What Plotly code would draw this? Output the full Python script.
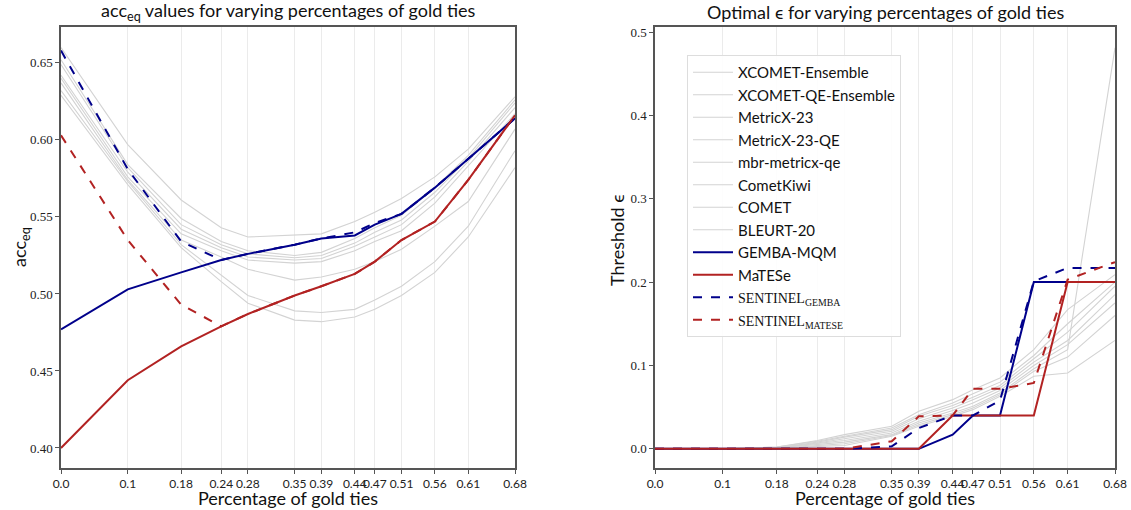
import plotly.graph_objects as go
from plotly.subplots import make_subplots

x_vals = [0.0, 0.1, 0.18, 0.24, 0.28, 0.35, 0.39, 0.44, 0.47, 0.51, 0.56, 0.61, 0.68]
x_labels = ["0.0", "0.1", "0.18", "0.24", "0.28", "0.35", "0.39", "0.44", "0.47", "0.51", "0.56", "0.61", "0.68"]

gray_names = ["XCOMET-Ensemble", "XCOMET-QE-Ensemble", "MetricX-23", "MetricX-23-QE",
              "mbr-metricx-qe", "CometKiwi", "COMET", "BLEURT-20"]

# left panel: acc_eq
acc_gray = [
    [0.660, 0.597, 0.561, 0.543, 0.537, 0.538, 0.539, 0.547, 0.553, 0.562, 0.576, 0.594, 0.628],
    [0.652, 0.584, 0.549, 0.534, 0.528, 0.525, 0.527, 0.536, 0.543, 0.551, 0.569, 0.590, 0.626],
    [0.649, 0.582, 0.545, 0.532, 0.526, 0.5235, 0.525, 0.533, 0.540, 0.548, 0.566, 0.588, 0.624],
    [0.642, 0.579, 0.542, 0.530, 0.524, 0.522, 0.523, 0.531, 0.537, 0.545, 0.563, 0.586, 0.621],
    [0.640, 0.576, 0.539, 0.528, 0.522, 0.520, 0.521, 0.528, 0.534, 0.541, 0.559, 0.583, 0.617],
    [0.637, 0.574, 0.535, 0.524, 0.516, 0.509, 0.511, 0.516, 0.521, 0.529, 0.544, 0.560, 0.607],
    [0.632, 0.573, 0.532, 0.512, 0.499, 0.489, 0.488, 0.490, 0.496, 0.505, 0.521, 0.544, 0.593],
    [0.629, 0.571, 0.530, 0.508, 0.494, 0.483, 0.482, 0.485, 0.490, 0.499, 0.514, 0.537, 0.582],
]
acc_gemba = [0.477, 0.503, 0.514, 0.522, 0.526, 0.532, 0.536, 0.538, 0.545, 0.552, 0.569, 0.588, 0.614]
acc_matese = [0.400, 0.444, 0.466, 0.479, 0.487, 0.499, 0.505, 0.513, 0.521, 0.535, 0.547, 0.574, 0.616]
acc_sent_gemba = [0.658, 0.581, 0.534, 0.522, 0.526, 0.532, 0.536, 0.540, 0.546, 0.552, 0.569, 0.588, 0.614]
acc_sent_matese = [0.603, 0.535, 0.493, 0.479, 0.487, 0.499, 0.505, 0.513, 0.521, 0.535, 0.547, 0.574, 0.616]

# right panel: optimal epsilon
eps_gray = [
    [0, 0, 0.002, 0.010, 0.017, 0.027, 0.045, 0.059, 0.071, 0.085, 0.119, 0.167, 0.209],
    [0, 0, 0.002, 0.009, 0.015, 0.025, 0.041, 0.055, 0.066, 0.080, 0.112, 0.150, 0.200],
    [0, 0, 0.001, 0.008, 0.014, 0.023, 0.039, 0.052, 0.062, 0.076, 0.108, 0.140, 0.195],
    [0, 0, 0.001, 0.007, 0.012, 0.021, 0.036, 0.049, 0.059, 0.073, 0.104, 0.130, 0.185],
    [0, 0, 0.001, 0.006, 0.010, 0.019, 0.033, 0.046, 0.055, 0.070, 0.100, 0.125, 0.175],
    [0, 0, 0.001, 0.005, 0.008, 0.017, 0.031, 0.043, 0.051, 0.067, 0.096, 0.119, 0.481],
    [0, 0, 0.000, 0.004, 0.006, 0.016, 0.029, 0.041, 0.049, 0.065, 0.093, 0.110, 0.160],
    [0, 0, 0.000, 0.003, 0.004, 0.015, 0.027, 0.039, 0.047, 0.063, 0.087, 0.091, 0.130],
]
eps_gemba = [0, 0, 0, 0, 0, 0, 0, 0.017, 0.040, 0.040, 0.200, 0.200, 0.200]
eps_matese = [0, 0, 0, 0, 0, 0, 0, 0.040, 0.040, 0.040, 0.040, 0.200, 0.200]
eps_sent_gemba = [0, 0, 0, 0, 0, 0.003, 0.025, 0.040, 0.040, 0.058, 0.201, 0.217, 0.217]
eps_sent_matese = [0, 0, 0, 0, 0, 0.009, 0.039, 0.040, 0.072, 0.072, 0.079, 0.203, 0.224]

GRAY = "#d3d3d3"
BLUE = "#00008b"
RED = "#b22222"
SERIF = "Liberation Serif"
SANS = "Lato"

fig = make_subplots(rows=1, cols=2)

def add_panel(col, grays, gemba, matese, sg, sm):
    show = col == 2
    for name, ys in zip(gray_names, grays):
        fig.add_trace(go.Scatter(x=x_vals, y=ys, mode="lines", name=name, legendgroup=name,
                                 showlegend=show, line=dict(color=GRAY, width=1.1)), row=1, col=col)
    fig.add_trace(go.Scatter(x=x_vals, y=gemba, mode="lines", name="GEMBA-MQM", legendgroup="g",
                             showlegend=show, line=dict(color=BLUE, width=2)), row=1, col=col)
    fig.add_trace(go.Scatter(x=x_vals, y=matese, mode="lines", name="MaTESe", legendgroup="m",
                             showlegend=show, line=dict(color=RED, width=2)), row=1, col=col)
    fig.add_trace(go.Scatter(x=x_vals, y=sg, mode="lines",
                             name="<span style='font-family:Liberation Serif;font-size:14px'>SENTINEL<sub>GEMBA</sub></span>",
                             legendgroup="sg", showlegend=show,
                             line=dict(color=BLUE, width=2, dash="dash")), row=1, col=col)
    fig.add_trace(go.Scatter(x=x_vals, y=sm, mode="lines",
                             name="<span style='font-family:Liberation Serif;font-size:14px'>SENTINEL<sub>MATESE</sub></span>",
                             legendgroup="sm", showlegend=show,
                             line=dict(color=RED, width=2, dash="dash")), row=1, col=col)

add_panel(1, acc_gray, acc_gemba, acc_matese, acc_sent_gemba, acc_sent_matese)
add_panel(2, eps_gray, eps_gemba, eps_matese, eps_sent_gemba, eps_sent_matese)

L, R, T, B = 61, 16, 27, 42
W, H = 1131, 510
pw = W - L - R
ph = H - T - B

def px_x(p):
    return (p - L) / pw

def px_y(p):
    return (H - B - p) / ph

axis_common = dict(showline=True, linecolor="#555555", linewidth=1.5, mirror=True,
                   ticks="outside", ticklen=4, tickcolor="#555555", automargin=False)

fig.update_xaxes(**axis_common, tickvals=x_vals, ticktext=x_labels, range=[0, 0.68],
                 tickangle=0, showgrid=True, gridcolor="#ebebeb", gridwidth=1, zeroline=False,
                 tickfont=dict(family=SANS, size=12, color="#222"))
fig.update_yaxes(**axis_common, showgrid=False, zeroline=False,
                 tickfont=dict(family=SERIF, size=13, color="#222"))

fig.update_layout(
    xaxis=dict(domain=[0, (515 - L) / pw]),
    xaxis2=dict(domain=[(655 - L) / pw, 1]),
    yaxis=dict(domain=[0, 1], range=[0.387, 0.6733], tickvals=[0.40, 0.45, 0.50, 0.55, 0.60, 0.65],
               ticktext=["0.40", "0.45", "0.50", "0.55", "0.60", "0.65"]),
    yaxis2=dict(domain=[0, 1], range=[-0.023, 0.506], tickvals=[0.0, 0.1, 0.2, 0.3, 0.4, 0.5],
                ticktext=["0.0", "0.1", "0.2", "0.3", "0.4", "0.5"]),
    width=W, height=H,
    margin=dict(l=L, r=R, t=T, b=B, autoexpand=False),
    plot_bgcolor="white", paper_bgcolor="white",
    legend=dict(x=px_x(687), y=px_y(55), xanchor="left", yanchor="top",
                bgcolor="rgba(255,255,255,0.9)", bordercolor="#dddddd", borderwidth=1,
                font=dict(family=SANS, size=15, color="#111"), tracegroupgap=0,
                itemwidth=40),
    showlegend=True,
)

title_font = dict(family=SANS, size=18, color="#111")
label_font = dict(family=SANS, size=18, color="#111")
fig.add_annotation(text="acc<sub>eq</sub> values for varying percentages of gold ties",
                   x=px_x(288), y=px_y(12), xref="paper", yref="paper", showarrow=False,
                   xanchor="center", yanchor="middle", font=title_font)
fig.add_annotation(text="Optimal ϵ for varying percentages of gold ties",
                   x=px_x(885), y=px_y(12), xref="paper", yref="paper", showarrow=False,
                   xanchor="center", yanchor="middle", font=title_font)
fig.add_annotation(text="Percentage of gold ties", x=px_x(288), y=px_y(498), xref="paper", yref="paper",
                   showarrow=False, xanchor="center", yanchor="middle", font=label_font)
fig.add_annotation(text="Percentage of gold ties", x=px_x(885), y=px_y(498), xref="paper", yref="paper",
                   showarrow=False, xanchor="center", yanchor="middle", font=label_font)
fig.add_annotation(text="acc<sub>eq</sub>", x=px_x(20), y=px_y(247), xref="paper", yref="paper",
                   showarrow=False, xanchor="center", yanchor="middle", textangle=-90, font=label_font)
fig.add_annotation(text="Threshold ϵ", x=px_x(617), y=px_y(240), xref="paper", yref="paper",
                   showarrow=False, xanchor="center", yanchor="middle", textangle=-90, font=label_font)

fig.write_html("out.html", config={"displayModeBar": False},
               post_script="document.body.style.margin='0px';")
